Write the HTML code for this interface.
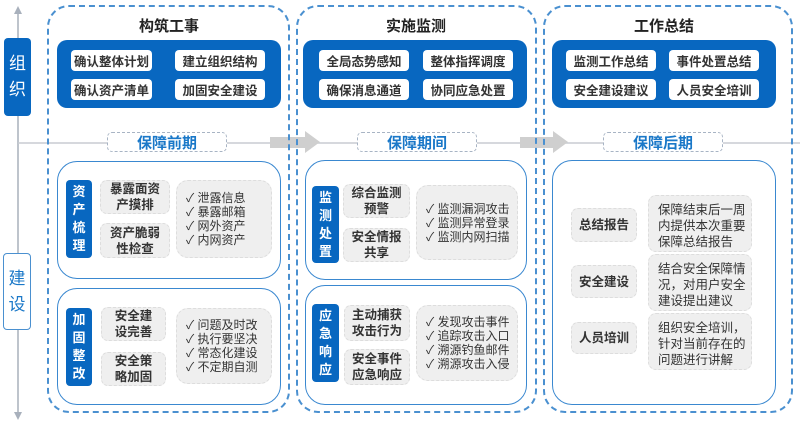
<!DOCTYPE html>
<html><head><meta charset="utf-8"><style>
*{margin:0;padding:0;box-sizing:border-box}
body{width:800px;height:423px;background:#fff;position:relative;overflow:hidden;font-family:"Liberation Sans","Noto Sans CJK SC",sans-serif;color:#333}
.a{position:absolute}
.col{position:absolute;border:2px dashed #4a90d0;border-radius:22px;top:5px;height:408px}
.title{position:absolute;font-size:15px;font-weight:bold;color:#222;text-align:center}
.blue{position:absolute;background:#0867c0;border-radius:10px}
.btn{position:absolute;background:#fff;border-radius:4px;font-size:12.5px;font-weight:bold;color:#333;display:flex;align-items:center;justify-content:center}
.phase{position:absolute;border:1.5px dashed #a8b4c4;border-radius:5px;background:#fff;color:#1a78c8;font-size:15px;font-weight:bold;display:flex;align-items:center;justify-content:center}
.sub{position:absolute;border:1.5px solid #3a88d0;border-radius:20px;background:#fff}
.lbl{position:absolute;background:#0867c0;border-radius:4px;color:#fff;font-size:13px;font-weight:bold;display:flex;align-items:center;justify-content:center;text-align:center;line-height:18px;width:26px}
.it{position:absolute;background:#efefef;border:1.5px dashed #ddd;border-radius:7px;font-size:12.5px;font-weight:bold;color:#333;display:flex;align-items:center;justify-content:center;text-align:center;line-height:16px}
.ck{position:absolute;background:#efefef;border:1.5px dashed #ddd;border-radius:12px;font-size:12px;color:#333;display:flex;flex-direction:column;justify-content:center;padding-left:9px;line-height:14px}
.tx{position:absolute;background:#efefef;border:1.5px dashed #ddd;border-radius:8px;font-size:12.5px;color:#333;padding:6px 0 0 9px;line-height:16px}
</style></head><body>
<svg class="a" style="left:0;top:0" width="800" height="423">
<line x1="18" y1="12" x2="18" y2="414" stroke="#a8b0bc" stroke-width="1.5"/>
<polygon points="14,14 18,6 22,14" fill="#a8b0bc"/>
<polygon points="14,412 18,420 22,412" fill="#a8b0bc"/>
<line x1="18" y1="143" x2="800" y2="143" stroke="#c8ccd2" stroke-width="1.5"/>
<polygon points="270,137 305,137 305,131 320,142 305,153 305,148 270,148" fill="#cfcfcf"/>
<polygon points="520,137 553,137 553,131 568,142 553,153 553,148 520,148" fill="#cfcfcf"/>
</svg>
<div class="a" style="left:4px;top:38px;width:27px;height:78px;background:#0867c0;border-radius:4px;color:#fff;font-size:17px;display:flex;align-items:center;justify-content:center;text-align:center;line-height:26px">组<br>织</div>
<div class="a" style="left:3px;top:253px;width:28px;height:77px;background:#fff;border:1.5px solid #4a90d0;border-radius:4px;color:#1a78c8;font-size:17px;display:flex;align-items:center;justify-content:center;text-align:center;line-height:26px">建<br>设</div>

<div class="col" style="left:47px;width:243px"></div>
<div class="col" style="left:296px;width:241px"></div>
<div class="col" style="left:543px;width:250px"></div>

<div class="title" style="left:57px;width:224px;top:15px">构筑工事</div>
<div class="blue" style="left:57px;top:40px;width:224px;height:68px"></div>
<div class="btn" style="left:71px;top:50px;width:81px;height:21px">确认整体计划</div>
<div class="btn" style="left:175px;top:50px;width:90px;height:21px">建立组织结构</div>
<div class="btn" style="left:71px;top:79px;width:81px;height:21px">确认资产清单</div>
<div class="btn" style="left:175px;top:79px;width:90px;height:21px">加固安全建设</div>
<div class="phase" style="left:107px;top:132px;width:120px;height:20px">保障前期</div>

<div class="sub" style="left:57px;top:161px;width:224px;height:118px"></div>
<div class="lbl" style="left:66px;top:180px;height:78px">资<br>产<br>梳<br>理</div>
<div class="it" style="left:100px;top:180px;width:70px;height:34px">暴露面资<br>产摸排</div>
<div class="it" style="left:100px;top:223px;width:70px;height:35px">资产脆弱<br>性检查</div>
<div class="ck" style="left:176px;top:180px;width:96px;height:78px">✓ 泄露信息<br>✓ 暴露邮箱<br>✓ 网外资产<br>✓ 内网资产</div>

<div class="sub" style="left:57px;top:288px;width:224px;height:117px"></div>
<div class="lbl" style="left:66px;top:308px;height:78px">加<br>固<br>整<br>改</div>
<div class="it" style="left:101px;top:307px;width:65px;height:34px">安全建<br>设完善</div>
<div class="it" style="left:101px;top:352px;width:65px;height:34px">安全策<br>略加固</div>
<div class="ck" style="left:176px;top:308px;width:96px;height:76px">✓ 问题及时改<br>✓ 执行要坚决<br>✓ 常态化建设<br>✓ 不定期自测</div>

<div class="title" style="left:305px;width:222px;top:15px">实施监测</div>
<div class="blue" style="left:303px;top:40px;width:224px;height:68px"></div>
<div class="btn" style="left:319px;top:50px;width:90px;height:21px">全局态势感知</div>
<div class="btn" style="left:423px;top:50px;width:90px;height:21px">整体指挥调度</div>
<div class="btn" style="left:319px;top:79px;width:90px;height:21px">确保消息通道</div>
<div class="btn" style="left:423px;top:79px;width:90px;height:21px">协同应急处置</div>
<div class="phase" style="left:357px;top:132px;width:120px;height:20px">保障期间</div>

<div class="sub" style="left:305px;top:160px;width:222px;height:120px"></div>
<div class="lbl" style="left:312px;top:186px;height:77px;width:27px">监<br>测<br>处<br>置</div>
<div class="it" style="left:343px;top:184px;width:67px;height:34px">综合监测<br>预警</div>
<div class="it" style="left:343px;top:228px;width:67px;height:34px">安全情报<br>共享</div>
<div class="ck" style="left:416px;top:185px;width:102px;height:75px">✓ 监测漏洞攻击<br>✓ 监测异常登录<br>✓ 监测内网扫描</div>

<div class="sub" style="left:305px;top:285px;width:222px;height:120px"></div>
<div class="lbl" style="left:312px;top:304px;height:78px;width:27px">应<br>急<br>响<br>应</div>
<div class="it" style="left:344px;top:305px;width:66px;height:36px">主动捕获<br>攻击行为</div>
<div class="it" style="left:344px;top:349px;width:66px;height:36px">安全事件<br>应急响应</div>
<div class="ck" style="left:416px;top:305px;width:102px;height:76px">✓ 发现攻击事件<br>✓ 追踪攻击入口<br>✓ 溯源钓鱼邮件<br>✓ 溯源攻击入侵</div>

<div class="title" style="left:552px;width:224px;top:15px">工作总结</div>
<div class="blue" style="left:552px;top:40px;width:224px;height:68px"></div>
<div class="btn" style="left:566px;top:50px;width:90px;height:21px">监测工作总结</div>
<div class="btn" style="left:669px;top:50px;width:90px;height:21px">事件处置总结</div>
<div class="btn" style="left:566px;top:79px;width:90px;height:21px">安全建设建议</div>
<div class="btn" style="left:669px;top:79px;width:90px;height:21px">人员安全培训</div>
<div class="phase" style="left:603px;top:132px;width:120px;height:20px">保障后期</div>

<div class="sub" style="left:552px;top:160px;width:224px;height:245px"></div>
<div class="it" style="left:571px;top:208px;width:66px;height:34px">总结报告</div>
<div class="it" style="left:571px;top:265px;width:66px;height:33px">安全建设</div>
<div class="it" style="left:571px;top:322px;width:66px;height:32px">人员培训</div>
<div class="tx" style="left:648px;top:195px;width:104px;height:57px">保障结束后一周<br>内提供本次重要<br>保障总结报告</div>
<div class="tx" style="left:648px;top:254px;width:104px;height:57px">结合安全保障情<br>况，对用户安全<br>建设提出建议</div>
<div class="tx" style="left:648px;top:313px;width:104px;height:57px">组织安全培训，<br>针对当前存在的<br>问题进行讲解</div>
</body></html>
